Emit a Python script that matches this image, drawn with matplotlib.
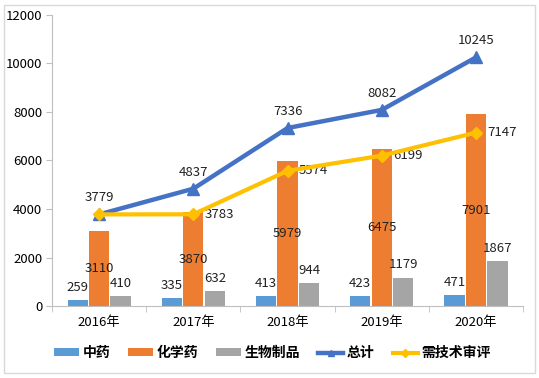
import numpy as np
import matplotlib.pyplot as plt
from matplotlib.patches import Rectangle

plt.rcParams['font.family'] = ['Noto Sans CJK SC', 'DejaVu Sans']

years = ['2016年', '2017年', '2018年', '2019年', '2020年']
zhongyao = [259, 335, 413, 423, 471]
huaxueyao = [3110, 3870, 5979, 6475, 7901]
shengwu = [410, 632, 944, 1179, 1867]
zongji = [3779, 4837, 7336, 8082, 10245]
shenping = [3779, 3783, 5574, 6199, 7147]

fig = plt.figure(figsize=(5.39, 3.78), dpi=100)
ax = fig.add_axes([0.0965, 0.19, 0.874, 0.771])

x = np.arange(len(years))
w = 0.215
off = 0.228
b1 = ax.bar(x - off, zhongyao, w, color='#5B9BD5', label='中药', zorder=2)
b2 = ax.bar(x, huaxueyao, w, color='#ED7D31', label='化学药', zorder=2)
b3 = ax.bar(x + off, shengwu, w, color='#A5A5A5', label='生物制品', zorder=2)
l1, = ax.plot(x, zongji, color='#4472C4', lw=3.2, marker='^', ms=8, label='总计', zorder=4)
l2, = ax.plot(x, shenping, color='#FFC000', lw=3.0, marker='D', ms=6.5, label='需技术审评', zorder=5)

fs = 9.5
for i in x:
    ax.text(i - off, zhongyao[i] + 250, str(zhongyao[i]), ha='center', va='bottom', fontsize=fs, color='#222222')
    ax.text(i, huaxueyao[i] / 2, str(huaxueyao[i]), ha='center', va='center', fontsize=fs, color='#222222')
    ax.text(i + off, shengwu[i] + 250, str(shengwu[i]), ha='center', va='bottom', fontsize=fs, color='#222222')
    ax.text(i, zongji[i] + 420, str(zongji[i]), ha='center', va='bottom', fontsize=fs, color='#222222')
    if i > 0:
        ax.text(i + 0.12, shenping[i], str(shenping[i]), ha='left', va='center', fontsize=fs, color='#222222')

ax.set_xlim(-0.5, 4.5)
ax.set_ylim(0, 12000)
ax.set_yticks(range(0, 12001, 2000))
ax.set_xticks(x)
ax.set_xticklabels(years, fontsize=9.5)
ax.set_xticks(np.arange(-0.5, 5, 1), minor=True)
ax.tick_params(axis='x', which='major', length=0, pad=7)
ax.tick_params(axis='x', which='minor', length=4, color='#BFBFBF')
ax.tick_params(axis='y', length=4, color='#BFBFBF', labelsize=9.5, pad=3)
for s in ['top', 'right']:
    ax.spines[s].set_visible(False)
ax.spines['left'].set_color('#BFBFBF')
ax.spines['bottom'].set_color('#BFBFBF')

leg = fig.legend(handles=[b1, b2, b3, l1, l2], loc='center', bbox_to_anchor=(0.505, 0.066), ncol=5,
                 frameon=False, prop={'weight': 'bold', 'size': 10}, handlelength=1.8, handleheight=0.5,
                 handletextpad=0.25, columnspacing=1.3, markerscale=0.6)

fig.patches.append(Rectangle((0.008, 0.012), 0.984, 0.976, transform=fig.transFigure,
                             fill=False, edgecolor='#D9D9D9', lw=1))

fig.savefig('out.png', dpi=100)
